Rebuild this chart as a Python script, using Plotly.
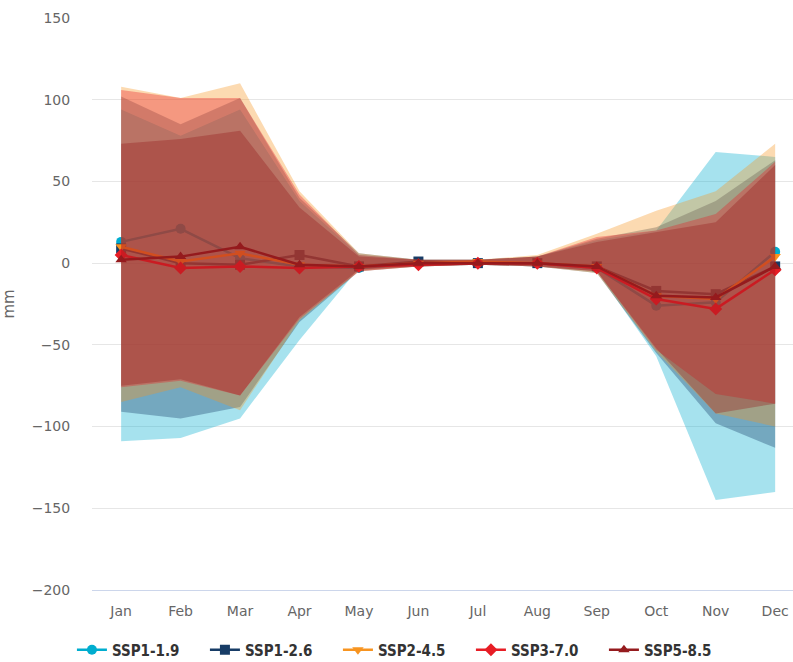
import plotly.graph_objects as go

months = ["Jan", "Feb", "Mar", "Apr", "May", "Jun", "Jul", "Aug", "Sep", "Oct", "Nov", "Dec"]

scenarios = ["SSP1-1.9", "SSP1-2.6", "SSP2-4.5", "SSP3-7.0", "SSP5-8.5"]
colors = ["#00ADCF", "#173C66", "#F79420", "#E71D25", "#951B1E"]
symbols = ["circle", "square", "triangle-down", "diamond", "triangle-up"]

# median change per month (mm)
median_ssp119 = [13, 21, 3, -2, -3, 0, 0, 0, -3, -26, -24, 7]
median_ssp126 = [9, 0, -1, 5, -2, 1, 0, 0, -2, -17, -19, -2]
median_ssp245 = [10, 1, 6, -1, -2, 0, 1, 0, -2, -20, -22, 4]
median_ssp370 = [5, -3, -2, -3, -2, -1, 0, 0, -3, -22, -28, -4]
median_ssp585 = [2, 4, 10, -1, -2, 0, 0, 0, -2, -20, -21, -2]

# upper bound of the range (mm)
upper_ssp119 = [94, 78, 94, 38, 5, 2, 2, 4, 14, 20, 68, 65]
upper_ssp126 = [102, 85, 101, 40, 6, 2, 2, 4, 15, 22, 38, 63]
upper_ssp245 = [108, 101, 110, 44, 6, 2, 2, 5, 18, 32, 44, 73]
upper_ssp370 = [106, 101, 101, 42, 5, 2, 2, 4, 16, 20, 30, 62]
upper_ssp585 = [73, 76, 81, 34, 4, 2, 2, 4, 13, 19, 25, 60]

# lower bound of the range (mm)
lower_ssp119 = [-109, -107, -95, -47, -3, -2, -1, -2, -5, -57, -145, -140]
lower_ssp126 = [-91, -95, -88, -36, -5, -2, -1, -2, -6, -55, -98, -113]
lower_ssp245 = [-85, -76, -90, -35, -5, -2, -1, -2, -6, -54, -92, -100]
lower_ssp370 = [-76, -72, -81, -34, -5, -2, -1, -2, -5, -53, -80, -86]
lower_ssp585 = [-75, -71, -81, -33, -4, -2, -1, -2, -5, -52, -92, -86]

medians = [median_ssp119, median_ssp126, median_ssp245, median_ssp370, median_ssp585]
uppers = [upper_ssp119, upper_ssp126, upper_ssp245, upper_ssp370, upper_ssp585]
lowers = [lower_ssp119, lower_ssp126, lower_ssp245, lower_ssp370, lower_ssp585]


def rgba(hex_color, alpha):
    h = hex_color.lstrip("#")
    r, g, b = int(h[0:2], 16), int(h[2:4], 16), int(h[4:6], 16)
    return f"rgba({r},{g},{b},{alpha})"


fig = go.Figure()
xi = list(range(len(months)))

for name, col, sym, med, up, lo in zip(scenarios, colors, symbols, medians, uppers, lowers):
    # median line with markers
    fig.add_trace(go.Scatter(
        x=xi, y=med, mode="lines+markers", name=name,
        line=dict(color=col, width=2.5),
        marker=dict(symbol=sym, size=10, color=col),
        legendgroup=name, showlegend=True,
    ))
    # shaded range: lower edge then upper edge filled to it
    fig.add_trace(go.Scatter(
        x=xi, y=lo, mode="lines", line=dict(width=0, color=col),
        legendgroup=name, showlegend=False, hoverinfo="skip",
    ))
    fig.add_trace(go.Scatter(
        x=xi, y=up, mode="lines", line=dict(width=0, color=col),
        fill="tonexty", fillcolor=rgba(col, 0.35),
        legendgroup=name, showlegend=False, hoverinfo="skip",
    ))

fig.update_layout(
    width=793, height=662,
    margin=dict(l=92, r=0, t=18, b=72, autoexpand=False),
    paper_bgcolor="white", plot_bgcolor="white",
    showlegend=True,
    legend=dict(
        orientation="h", xref="container", yref="container",
        x=0.51, xanchor="center", y=0.018, yanchor="middle",
        font=dict(family="DejaVu Sans Condensed, Liberation Sans Narrow, DejaVu Sans, sans-serif",
                  size=15, color="#333333", weight="bold"),
        entrywidthmode="pixels", entrywidth=88,
        itemwidth=30, tracegroupgap=0,
    ),
    font=dict(family="DejaVu Sans, Verdana, sans-serif", size=14, color="#666666"),
)

fig.update_xaxes(
    tickmode="array", tickvals=xi, ticktext=months,
    range=[-0.49, 11.3],
    showgrid=False, zeroline=False,
    showline=True, linecolor="#ccd6eb", linewidth=1,
    ticks="outside", ticklen=8, tickcolor="rgba(0,0,0,0)",
    tickfont=dict(size=14, color="#666666"),
)

fig.update_yaxes(
    range=[-200, 150], tickvals=[-200, -150, -100, -50, 0, 50, 100, 150],
    ticktext=["\u2212200", "\u2212150", "\u2212100", "\u221250", "0", "50", "100", "150"],
    showgrid=True, gridcolor="#e6e6e6", gridwidth=1,
    zeroline=False, showline=False,
    ticks="outside", ticklen=18, tickcolor="rgba(0,0,0,0)",
    title=dict(text="mm", font=dict(size=15, color="#666666"), standoff=18),
    tickfont=dict(size=14, color="#666666"),
)

fig.write_html("out.html")
